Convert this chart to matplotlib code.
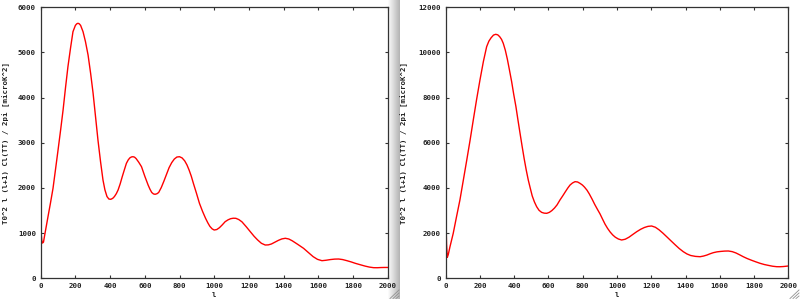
import numpy as np
import matplotlib.pyplot as plt
from matplotlib.lines import Line2D

# ------------------------------------------------------------
# Data read off the two gnuplot windows
# ------------------------------------------------------------
l_left = [2, 6, 10, 16, 25, 33, 42, 56, 71, 85, 100, 115, 129, 143, 157, 172,
          186, 200, 208, 215, 222, 230, 244, 258, 273, 288, 302, 316, 330, 345,
          359, 370, 382, 393, 404, 415, 425, 436, 446, 458, 470, 482, 494, 505,
          515, 524, 532, 541, 550, 565, 581, 600, 619, 630, 640, 650, 659, 670,
          680, 695, 710, 725, 740, 755, 770, 785, 800, 815, 830, 843, 855, 868,
          880, 898, 915, 933, 950, 963, 975, 988, 1000, 1015, 1030, 1047, 1063,
          1080, 1095, 1110, 1125, 1142, 1160, 1185, 1208, 1230, 1250, 1272,
          1294, 1312, 1330, 1350, 1370, 1390, 1410, 1430, 1450, 1482, 1515,
          1543, 1570, 1595, 1621, 1645, 1670, 1695, 1717, 1740, 1765, 1790,
          1813, 1842, 1870, 1895, 1919, 1940, 1960, 1980, 2000]
cl_left = [1030, 850, 780, 800, 1000, 1170, 1364, 1660, 1993, 2400, 2840, 3290,
           3726, 4220, 4685, 5100, 5460, 5600, 5635, 5646, 5635, 5600, 5460,
           5240, 4944, 4530, 4096, 3580, 3062, 2580, 2176, 1960, 1810, 1755,
           1749, 1770, 1810, 1875, 1955, 2090, 2250, 2400, 2546, 2625, 2670,
           2688, 2692, 2682, 2650, 2570, 2471, 2260, 2066, 1970, 1900, 1868,
           1860, 1872, 1900, 2010, 2150, 2300, 2450, 2560, 2640, 2685, 2692,
           2665, 2600, 2510, 2400, 2260, 2103, 1880, 1660, 1480, 1330, 1230,
           1150, 1095, 1069, 1080, 1120, 1185, 1253, 1295, 1320, 1330, 1328,
           1300, 1250, 1140, 1032, 930, 850, 775, 737, 740, 760, 800, 840, 872,
           886, 870, 830, 750, 664, 570, 480, 420, 390, 400, 415, 425, 427, 415,
           390, 362, 332, 300, 270, 248, 235, 234, 238, 240, 240]

l_right = [2, 5, 9.5, 15, 25, 34, 44, 63, 83, 103, 123, 142, 161, 180, 200,
           220, 239, 252, 265, 279, 292, 304, 315, 326, 336, 348, 360, 372, 385,
           397, 410, 422, 434, 446, 458, 470, 482, 494, 505, 518, 531, 545, 560,
           575, 590, 605, 620, 635, 650, 667, 684, 700, 713, 726, 740, 755, 770,
           785, 798, 810, 825, 838, 855, 870, 886, 901, 915, 930, 945, 960, 975,
           990, 1008, 1027, 1048, 1070, 1092, 1115, 1138, 1160, 1181, 1202,
           1224, 1245, 1268, 1290, 1315, 1340, 1363, 1387, 1408, 1430, 1458,
           1485, 1505, 1525, 1543, 1562, 1583, 1605, 1628, 1650, 1673, 1695,
           1716, 1737, 1760, 1785, 1810, 1835, 1860, 1885, 1908, 1932, 1950,
           1970, 1985, 2000]
cl_right = [2435, 1500, 930, 1050, 1400, 1680, 1993, 2720, 3467, 4350, 5238,
            6100, 7010, 7900, 8781, 9600, 10255, 10500, 10650, 10770, 10804,
            10780, 10700, 10580, 10406, 10100, 9700, 9230, 8706, 8150, 7600,
            7000, 6421, 5850, 5300, 4800, 4353, 3980, 3650, 3380, 3170, 3010,
            2920, 2885, 2878, 2920, 3000, 3110, 3250, 3467, 3660, 3850, 4000,
            4131, 4220, 4279, 4265, 4200, 4130, 4040, 3900, 3740, 3500, 3270,
            3050, 2850, 2630, 2400, 2210, 2050, 1920, 1820, 1740, 1696, 1730,
            1820, 1940, 2063, 2170, 2250, 2300, 2316, 2260, 2150, 2000, 1842,
            1660, 1480, 1320, 1178, 1080, 1010, 970, 956, 985, 1030, 1085, 1134,
            1170, 1190, 1205, 1209, 1180, 1120, 1040, 956, 875, 800, 730, 664,
            610, 570, 535, 514, 512, 520, 532, 545]

xticks = [0, 200, 400, 600, 800, 1000, 1200, 1400, 1600, 1800, 2000]
yticks_left = [0, 1000, 2000, 3000, 4000, 5000, 6000]
yticks_right = [0, 2000, 4000, 6000, 8000, 10000, 12000]

ylabel = "T0^2 l (l+1) Cl(TT) / 2pi [microK^2]"
xlabel = "l"

W, H = 800, 299
font = dict(family="DejaVu Sans Mono", size=5.3, weight="bold")

fig = plt.figure(figsize=(W / 100, H / 100), dpi=100, facecolor="white")


def px_axes(x0, x1, y0, y1):
    # pixel box (top-left origin) -> figure fraction
    return fig.add_axes([x0 / W, 1 - y1 / H, (x1 - x0) / W, (y1 - y0) / H],
                        zorder=2)


def style(ax, l, cl, yticks):
    ax.plot(l, cl, color="#ff0000", lw=1.0)
    ax.set_xlim(0, 2000)
    ax.set_ylim(yticks[0], yticks[-1])
    ax.set_xticks(xticks)
    ax.set_yticks(yticks)
    ax.set_xticklabels([str(t) for t in xticks], fontdict=font)
    ax.set_yticklabels([str(t) for t in yticks], fontdict=font)
    ax.tick_params(direction="in", length=2.5, width=0.8, color="#333333",
                   top=True, right=True, pad=3.5, labelcolor="#222222")
    for s in ax.spines.values():
        s.set_color("#333333")
        s.set_linewidth(0.9)
    ax.set_facecolor("white")
    ax.set_xlabel(xlabel, fontdict=font, color="#222222", labelpad=2)
    ax.set_ylabel(ylabel, fontdict=font, color="#222222")


ax1 = px_axes(40.7, 387.7, 7.3, 278.3)
style(ax1, l_left, cl_left, yticks_left)
ax1.yaxis.set_label_coords(-31.0 / 347, 0.5)

ax2 = px_axes(445.7, 788.3, 7.3, 278.3)
style(ax2, l_right, cl_right, yticks_right)
ax2.yaxis.set_label_coords(-38.0 / 342.6, 0.5)

# window edge between the two screenshots: grey gradient (behind the labels)
sep = fig.add_axes([388 / W, 0, 12 / W, 1], zorder=0)
grad = np.linspace(0.99, 0.70, 50).reshape(1, -1)
sep.imshow(grad, cmap="gray", vmin=0, vmax=1, aspect="auto",
           extent=[0, 1, 0, 1])
sep.axis("off")

# resize grips in the bottom-right corners
for gx in (399, 799):
    for k in range(3):
        d = 3 + 3 * k
        fig.add_artist(Line2D([(gx - d) / W, gx / W],
                              [1 - (H - 0.5) / H, 1 - (H - d) / H],
                              transform=fig.transFigure, color="#909090",
                              lw=0.6))

fig.savefig("out.png", dpi=100, facecolor="white")
